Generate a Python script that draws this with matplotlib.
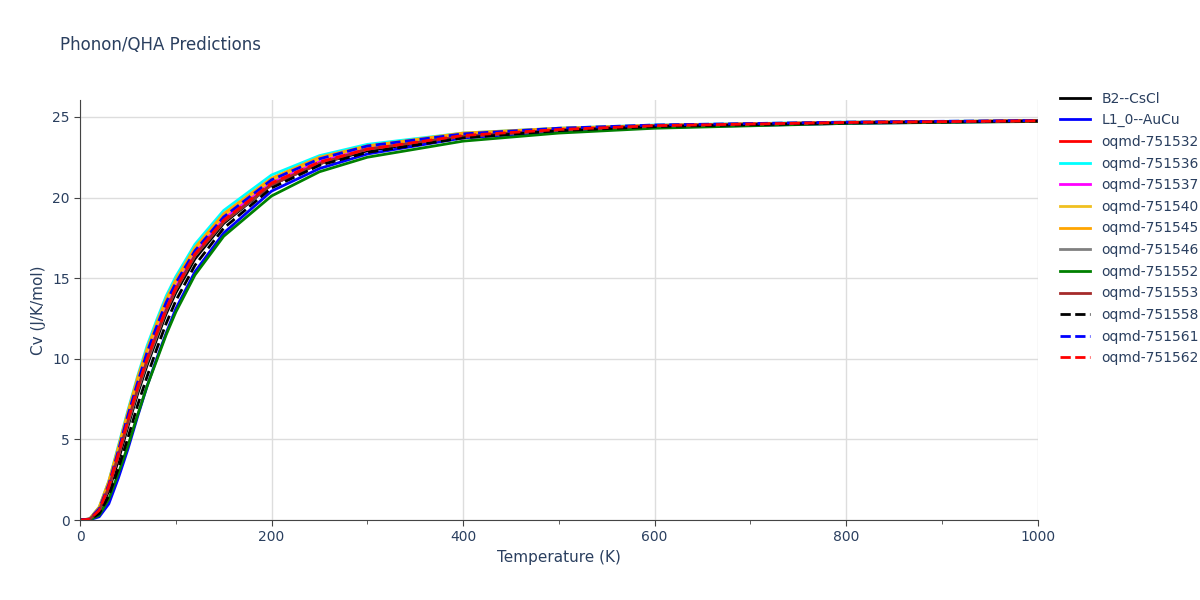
import matplotlib
matplotlib.use("Agg")
import matplotlib.pyplot as plt

# Temperature grid (K) and Cv values (J/K/mol)
temps = [0, 10, 20, 30, 40, 50, 60, 70, 80, 90, 100, 120, 150, 200, 250, 300, 400, 500, 600, 800, 1000]

cv_b2_cscl  = [0, 0.04, 0.5, 1.8, 3.7, 5.8, 7.8, 9.6, 11.2, 12.8, 14.1, 16.2, 18.4, 20.8, 22.1, 22.9, 23.8, 24.2, 24.45, 24.65, 24.76]
cv_l10_aucu = [0, 0.01, 0.2, 1.0, 2.6, 4.4, 6.4, 8.3, 10.0, 11.6, 13.1, 15.4, 17.8, 20.4, 21.8, 22.7, 23.7, 24.1, 24.35, 24.6, 24.74]
cv_751532   = [0, 0.05, 0.6, 2.0, 4.0, 6.1, 8.1, 9.9, 11.5, 13.1, 14.4, 16.5, 18.6, 20.9, 22.2, 23.0, 23.8, 24.2, 24.45, 24.65, 24.75]
cv_751536   = [0, 0.07, 0.8, 2.4, 4.6, 6.8, 8.9, 10.8, 12.4, 13.9, 15.1, 17.1, 19.2, 21.4, 22.6, 23.3, 24.0, 24.3, 24.5, 24.68, 24.77]
cv_751537   = [0, 0.05, 0.6, 2.1, 4.1, 6.2, 8.2, 10.0, 11.7, 13.2, 14.5, 16.6, 18.7, 21.0, 22.3, 23.1, 23.9, 24.25, 24.47, 24.66, 24.76]
cv_751540   = [0, 0.06, 0.7, 2.3, 4.4, 6.6, 8.6, 10.5, 12.1, 13.6, 14.8, 16.8, 18.9, 21.1, 22.4, 23.2, 23.9, 24.25, 24.47, 24.66, 24.76]
cv_751545   = [0, 0.07, 0.8, 2.4, 4.5, 6.7, 8.8, 10.6, 12.2, 13.7, 14.9, 16.9, 19.0, 21.2, 22.5, 23.2, 24.0, 24.3, 24.48, 24.67, 24.77]
cv_751546   = [0, 0.05, 0.6, 2.0, 4.0, 6.0, 8.0, 9.8, 11.4, 13.0, 14.3, 16.4, 18.5, 20.8, 22.1, 23.0, 23.8, 24.2, 24.45, 24.65, 24.75]
cv_751552   = [0, 0.02, 0.3, 1.3, 2.9, 4.6, 6.5, 8.3, 9.9, 11.5, 12.9, 15.2, 17.6, 20.1, 21.6, 22.5, 23.5, 24.0, 24.3, 24.6, 24.72]
cv_751553   = [0, 0.05, 0.6, 2.0, 4.0, 6.1, 8.1, 9.9, 11.5, 13.0, 14.3, 16.4, 18.5, 20.8, 22.1, 23.0, 23.8, 24.2, 24.45, 24.65, 24.75]
cv_751558   = [0, 0.03, 0.4, 1.5, 3.2, 5.1, 7.1, 8.9, 10.6, 12.2, 13.6, 15.8, 18.1, 20.6, 22.0, 22.8, 23.7, 24.15, 24.4, 24.63, 24.75]
cv_751561   = [0, 0.06, 0.7, 2.2, 4.3, 6.5, 8.5, 10.4, 12.0, 13.5, 14.7, 16.7, 18.8, 21.1, 22.4, 23.2, 23.95, 24.3, 24.5, 24.68, 24.78]
cv_751562   = [0, 0.05, 0.6, 2.1, 4.1, 6.2, 8.2, 10.0, 11.6, 13.1, 14.4, 16.5, 18.6, 20.9, 22.2, 23.0, 23.85, 24.22, 24.46, 24.66, 24.76]

series = [
    ("B2--CsCl", cv_b2_cscl, "black", "-"),
    ("L1_0--AuCu", cv_l10_aucu, "blue", "-"),
    ("oqmd-751532", cv_751532, "red", "-"),
    ("oqmd-751536", cv_751536, "cyan", "-"),
    ("oqmd-751537", cv_751537, "magenta", "-"),
    ("oqmd-751540", cv_751540, "#f0c020", "-"),
    ("oqmd-751545", cv_751545, "orange", "-"),
    ("oqmd-751546", cv_751546, "gray", "-"),
    ("oqmd-751552", cv_751552, "green", "-"),
    ("oqmd-751553", cv_751553, "brown", "-"),
    ("oqmd-751558", cv_751558, "black", "--"),
    ("oqmd-751561", cv_751561, "blue", "--"),
    ("oqmd-751562", cv_751562, "red", "--"),
]

fig = plt.figure(figsize=(12, 6), dpi=100)
ax = fig.add_axes([0.0667, 0.1333, 0.798, 0.70])

for name, vals, color, ls in series:
    ax.plot(temps, vals, color=color, linestyle=ls, linewidth=2, label=name)

ax.set_xlim(0, 1000)
ax.set_ylim(0, 26.05)
ax.set_xticks([0, 200, 400, 600, 800, 1000])
ax.set_yticks([0, 5, 10, 15, 20, 25])
ax.set_xticks(range(0, 1001, 100), minor=True)
ax.grid(True, which="major", color="#dddddd", linewidth=1)
ax.tick_params(which="both", colors="#444444", labelcolor="#2a3f5f", labelsize=10, length=4)
ax.tick_params(which="minor", length=3)
for s in ["top", "right"]:
    ax.spines[s].set_visible(False)
for s in ["left", "bottom"]:
    ax.spines[s].set_color("#444444")
ax.set_axisbelow(True)

ax.set_xlabel("Temperature (K)", color="#2a3f5f", fontsize=11)
ax.set_ylabel("Cv (J/K/mol)", color="#2a3f5f", fontsize=11)
fig.text(0.05, 0.925, "Phonon/QHA Predictions", color="#2a3f5f", fontsize=12, va="center")

leg = ax.legend(loc="upper left", bbox_to_anchor=(1.01, 1.05), frameon=False,
                fontsize=10, handlelength=2.2, labelspacing=0.55, labelcolor="#2a3f5f")

fig.savefig("out.png")
